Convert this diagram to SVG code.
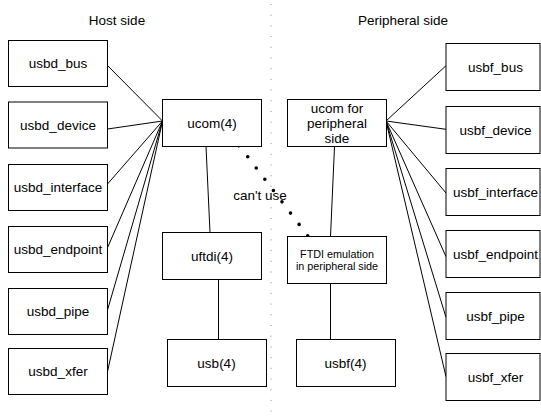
<svg xmlns="http://www.w3.org/2000/svg" width="541" height="416" viewBox="0 0 541 416">
  <style>
    .box { fill: #fff; stroke: #000; stroke-width: 1; }
    .lbl { font-family: "Liberation Sans", Arial, sans-serif; font-size: 13.5px; fill: #000; text-anchor: middle; }
    .small { font-size: 10.8px; }
    .wire { stroke: #000; stroke-width: 1; fill: none; }
  </style>
  <rect width="541" height="416" fill="#fff"/>

  <!-- divider between the two sides -->
  <line x1="271" y1="4" x2="271" y2="414" stroke="#888" stroke-width="1" stroke-dasharray="1 9.7"/>

  <text class="lbl" x="117" y="25">Host side</text>
  <text class="lbl" x="403" y="25">Peripheral side</text>

  <!-- connectors -->
  <g id="connectors">
    <line class="wire" x1="162.5" y1="121" x2="107.5" y2="65.5"/>
    <line class="wire" x1="162.5" y1="121" x2="107.5" y2="129"/>
    <line class="wire" x1="162.5" y1="121" x2="107.5" y2="184"/>
    <line class="wire" x1="162.5" y1="121" x2="107.5" y2="247.7"/>
    <line class="wire" x1="162.5" y1="121" x2="107.5" y2="310"/>
    <line class="wire" x1="162.5" y1="121" x2="107.5" y2="371.7"/>
    <line class="wire" x1="206" y1="146.5" x2="210" y2="232.5"/>
    <line class="wire" x1="218.5" y1="279.5" x2="218.5" y2="339.5"/>

    <line class="wire" x1="386" y1="121" x2="446" y2="65.7"/>
    <line class="wire" x1="386" y1="121" x2="446" y2="129.3"/>
    <line class="wire" x1="386" y1="121" x2="446" y2="193"/>
    <line class="wire" x1="386" y1="121" x2="446" y2="256.7"/>
    <line class="wire" x1="386" y1="121" x2="446" y2="317.3"/>
    <line class="wire" x1="386" y1="121" x2="446" y2="376.7"/>
    <line class="wire" x1="334.5" y1="146.5" x2="330.5" y2="236.5"/>
    <line class="wire" x1="330.5" y1="283.5" x2="330.5" y2="339.5"/>

    <!-- blocked path between host ucom and the emulated FTDI -->
    <line class="wire" x1="238.5" y1="147.5" x2="241" y2="145.5"/>
    <line x1="247.7" y1="156.7" x2="307.7" y2="235.7" stroke="#000" stroke-width="3.6" stroke-linecap="round" stroke-dasharray="0 14.17"/>
    <text class="lbl" x="260" y="200">can't use</text>
  </g>

  <!-- host side -->
  <g id="usbd_bus"><rect class="box" x="8.5" y="40.5" width="99" height="46"/><text class="lbl" x="58" y="68">usbd_bus</text></g>
  <g id="usbd_device"><rect class="box" x="8.5" y="102" width="99" height="46"/><text class="lbl" x="58" y="129.5">usbd_device</text></g>
  <g id="usbd_interface"><rect class="box" x="8.5" y="164.5" width="99" height="46"/><text class="lbl" x="58" y="192">usbd_interface</text></g>
  <g id="usbd_endpoint"><rect class="box" x="8.5" y="226.5" width="99" height="46"/><text class="lbl" x="58" y="254">usbd_endpoint</text></g>
  <g id="usbd_pipe"><rect class="box" x="8.5" y="288.5" width="99" height="46"/><text class="lbl" x="58" y="316">usbd_pipe</text></g>
  <g id="usbd_xfer"><rect class="box" x="8.5" y="348.5" width="99" height="46"/><text class="lbl" x="58" y="376">usbd_xfer</text></g>

  <g id="ucom"><rect class="box" x="162.5" y="99.5" width="99" height="47"/><text class="lbl" x="212" y="128">ucom(4)</text></g>
  <g id="uftdi"><rect class="box" x="162.5" y="232.5" width="99" height="47"/><text class="lbl" x="212" y="261">uftdi(4)</text></g>
  <g id="usb"><rect class="box" x="167.5" y="339.5" width="99" height="47"/><text class="lbl" x="216.5" y="368">usb(4)</text></g>

  <!-- peripheral side -->
  <g id="ucom_peripheral"><rect class="box" x="287.5" y="99.5" width="99" height="47"/>
    <text class="lbl" x="337" y="113">ucom for</text>
    <text class="lbl" x="337" y="128">peripheral</text>
    <text class="lbl" x="337" y="142.5">side</text>
  </g>
  <g id="ftdi_emulation"><rect class="box" x="287.5" y="236.5" width="99" height="47"/>
    <text class="lbl small" x="337" y="258">FTDI emulation</text>
    <text class="lbl small" x="337" y="270">in peripheral side</text>
  </g>
  <g id="usbf"><rect class="box" x="296.5" y="339.5" width="99" height="47"/><text class="lbl" x="345.5" y="368">usbf(4)</text></g>

  <g id="usbf_bus"><rect class="box" x="446" y="43.5" width="94" height="47"/><text class="lbl" x="495.5" y="72">usbf_bus</text></g>
  <g id="usbf_device"><rect class="box" x="446" y="106.5" width="94" height="47"/><text class="lbl" x="495.5" y="135">usbf_device</text></g>
  <g id="usbf_interface"><rect class="box" x="446" y="168.5" width="94" height="47"/><text class="lbl" x="495.5" y="197">usbf_interface</text></g>
  <g id="usbf_endpoint"><rect class="box" x="446" y="230.5" width="94" height="47"/><text class="lbl" x="495.5" y="259">usbf_endpoint</text></g>
  <g id="usbf_pipe"><rect class="box" x="446" y="292.5" width="94" height="47"/><text class="lbl" x="495.5" y="321">usbf_pipe</text></g>
  <g id="usbf_xfer"><rect class="box" x="446" y="353.5" width="94" height="47"/><text class="lbl" x="495.5" y="382">usbf_xfer</text></g>
</svg>
